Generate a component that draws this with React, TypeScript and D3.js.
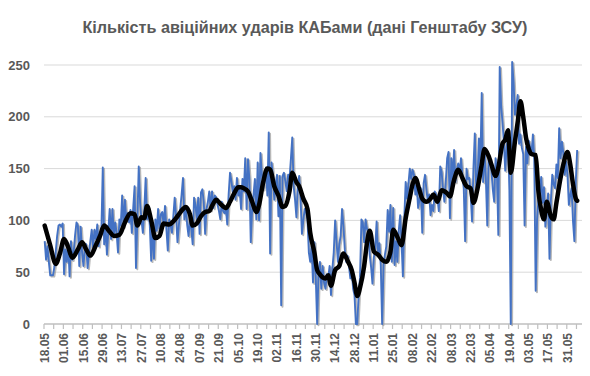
import React from "react";
import * as d3 from "d3";

const TITLE = "Кількість авіційних ударів КАБами (дані Генштабу ЗСУ)";

// category axis: one category per day, labels every 14 days
const TOTAL_DAYS = 389;
const LABEL_STEP = 14;
const TICK_STEP = 7;
const dateLabels = [
  "18.05", "01.06", "15.06", "29.06", "13.07", "27.07", "10.08", "24.08",
  "07.09", "21.09", "05.10", "19.10", "02.11", "16.11", "30.11", "14.12",
  "28.12", "11.01", "25.01", "08.02", "22.02", "08.03", "22.03", "05.04",
  "19.04", "03.05", "17.05", "31.05",
];

const yTicks = [0, 50, 100, 150, 200, 250];

// daily number of KAB strikes
const dailyStrikes = [
  80, 62, 75, 60, 47, 47, 47, 55, 70, 85,
  95, 96, 94, 97, 48, 72, 60, 78, 46, 80,
  62, 70, 86, 98, 95, 56, 94, 70, 56, 72,
  77, 54, 68, 80, 91, 74, 91, 82, 96, 75,
  88, 90, 151, 77, 94, 67, 90, 111, 82, 111,
  85, 98, 88, 69, 101, 95, 124, 94, 120, 100,
  107, 98, 110, 88, 112, 133, 54, 100, 152, 117,
  100, 88, 110, 141, 101, 112, 95, 61, 95, 63,
  101, 90, 111, 92, 106, 108, 96, 114, 92, 71,
  101, 96, 88, 104, 122, 104, 79, 95, 111, 125,
  141, 101, 114, 96, 85, 101, 92, 77, 122, 115,
  101, 122, 87, 127, 130, 118, 87, 111, 118, 128,
  110, 128, 112, 124, 122, 115, 109, 101, 118, 109,
  107, 112, 96, 125, 146, 138, 127, 133, 120, 141,
  124, 130, 111, 140, 128, 160, 111, 159, 140, 79,
  111, 125, 140, 101, 156, 100, 165, 145, 130, 138,
  151, 124, 185, 68, 156, 143, 120, 135, 144, 104,
  143, 18, 143, 146, 138, 128, 144, 140, 159, 180,
  133, 120, 103, 133, 143, 121, 87, 100, 111, 108,
  101, 69, 60, 75, 40, 79, 45, 0, 50, 60,
  34, 56, 40, 34, 48, 44, 56, 28, 53, 69,
  100, 80, 60, 77, 85, 111, 95, 72, 60, 66,
  56, 44, 52, 34, 28, 0, 0, 28, 45, 101,
  98, 79, 101, 92, 89, 67, 55, 39, 64, 73,
  99, 67, 78, 57, 0, 57, 67, 75, 110, 89,
  115, 60, 112, 57, 80, 60, 90, 105, 80, 46,
  102, 137, 121, 135, 150, 140, 149, 144, 125, 134,
  112, 120, 131, 88, 136, 144, 130, 118, 125, 105,
  115, 109, 128, 125, 121, 109, 152, 147, 130, 118,
  137, 160, 166, 102, 160, 140, 168, 137, 149, 155,
  145, 160, 144, 131, 80, 150, 140, 141, 125, 99,
  150, 184, 131, 140, 179, 154, 223, 137, 168, 140,
  95, 161, 160, 148, 130, 118, 160, 147, 86, 248,
  211, 195, 176, 148, 171, 180, 129, 0, 253, 234,
  202, 210, 221, 174, 183, 170, 164, 95, 171, 155,
  177, 170, 164, 183, 158, 32, 101, 120, 126, 142,
  117, 132, 94, 110, 126, 63, 119, 144, 135, 131,
  154, 141, 189, 160, 176, 165, 144, 157, 144, 115,
  125, 131, 99, 80, 137, 168,
];

// smoothed (moving average) line, read at day positions
const trendDays = [
  0, 4, 8, 11, 14, 17, 20, 24, 27, 30, 33, 37, 40, 43, 47, 50, 54, 58, 62, 65,
  67, 70, 72, 74, 77, 80, 83, 86, 90, 93, 96, 100, 102, 105, 107, 110, 113, 116, 119, 121,
  124, 127, 131, 134, 137, 140, 142, 144, 147, 150, 153, 155, 158, 161, 163, 166, 169, 172, 174, 177,
  179, 182, 184, 187, 190, 192, 195, 197, 199, 201, 203, 205, 207, 210, 213, 216, 219, 222, 224, 226,
  228, 231, 233, 235, 238, 241, 244, 247, 250, 252, 255, 258, 261, 264, 266, 268, 271, 273, 276, 279,
  281, 284, 287, 291, 293, 296, 299, 302, 305, 308, 310, 313, 316, 318, 321, 323, 326, 328, 331, 333,
  335, 337, 340, 342, 344, 346, 348, 350, 352, 355, 357, 359, 361, 363, 366, 368, 370, 373, 375, 378,
  380, 382, 384, 385,
];
const trendValues = [
  95, 76, 58, 68, 82, 74, 64, 72, 79, 72, 66, 76, 85, 95, 89, 85, 86, 98, 107, 106,
  95, 103, 102, 114, 100, 83, 85, 97, 96, 99, 104, 111, 113, 106, 95, 97, 104, 108, 109, 114,
  120, 116, 112, 118, 126, 132, 132, 131, 128, 118, 108, 115, 137, 150, 149, 133, 124, 113, 114, 128,
  146, 137, 133, 121, 111, 88, 69, 52, 48, 45, 44, 47, 37, 52, 56, 68, 61, 52, 40, 27,
  35, 56, 78, 90, 70, 67, 62, 60, 70, 91, 84, 76, 102, 122, 135, 141, 129, 121, 118, 121,
  125, 118, 129, 126, 123, 139, 149, 141, 133, 131, 117, 131, 154, 169, 162, 154, 143, 151, 174, 178,
  187, 146, 176, 195, 215, 200, 180, 169, 164, 163, 128, 110, 101, 118, 104, 101, 117, 141, 154, 166,
  154, 135, 121, 119,
];

const W = 590;
const H = 376;
const LEFT = 44;
const RIGHT = 582;
const TOP = 65;
const BOTTOM = 324;
const GREY = "#595959";
const FONT = "'Liberation Sans', Arial, sans-serif";

export default function App() {
  const x = d3.scaleLinear().domain([-0.5, TOTAL_DAYS - 0.5]).range([LEFT, RIGHT]);
  const y = d3.scaleLinear().domain([0, 250]).range([BOTTOM, TOP]);

  const blueLine = d3
    .line<number>()
    .x((_, i) => x(i))
    .y((v) => y(v));

  const trendPts = trendDays.map((d, i) => [d, trendValues[i]] as [number, number]);
  const trendLine = d3
    .line<[number, number]>()
    .x((p) => x(p[0]))
    .y((p) => y(p[1]))
    .curve(d3.curveMonotoneX);

  const tickIdx = d3.range(0, TOTAL_DAYS + 1, TICK_STEP);

  return (
    <svg
      width={W}
      height={H}
      style={{ position: "absolute", left: 0, top: 0, background: "#fff" }}
      fontFamily={FONT}
    >
      <rect width={W} height={H} fill="#fff" />
      <text
        x={305}
        y={33}
        textAnchor="middle"
        fontSize={16}
        fontWeight="bold"
        fill={GREY}
        textLength={445}
        lengthAdjust="spacingAndGlyphs"
      >
        {TITLE}
      </text>

      {yTicks.map((t) => (
        <g key={t}>
          {t > 0 && (
            <line x1={LEFT} x2={RIGHT} y1={y(t)} y2={y(t)} stroke="#d9d9d9" strokeWidth={1} />
          )}
          <text
            x={30}
            y={y(t)}
            dy="0.35em"
            textAnchor="end"
            fontSize={13}
            fontWeight="bold"
            fill={GREY}
          >
            {t}
          </text>
        </g>
      ))}

      <line x1={LEFT} x2={RIGHT} y1={BOTTOM} y2={BOTTOM} stroke="#bfbfbf" strokeWidth={1.5} />
      {tickIdx.map((k) => (
        <line
          key={k}
          x1={x(k - 0.5)}
          x2={x(k - 0.5)}
          y1={BOTTOM}
          y2={BOTTOM + 5}
          stroke="#bfbfbf"
          strokeWidth={1.2}
        />
      ))}

      {dateLabels.map((lab, i) => {
        const px = x(i * LABEL_STEP);
        return (
          <text
            key={lab + i}
            transform={`translate(${px},${333}) rotate(-90)`}
            dy="0.35em"
            textAnchor="end"
            fontSize={12}
            fontWeight="bold"
            fill={GREY}
          >
            {lab}
          </text>
        );
      })}

      <path
        d={blueLine(dailyStrikes) || ""}
        fill="none"
        stroke="#9a9a9a"
        strokeOpacity={0.7}
        strokeWidth={2}
        transform="translate(1.3,1.3)"
        strokeLinejoin="round"
      />
      <path
        d={blueLine(dailyStrikes) || ""}
        fill="none"
        stroke="#4472c4"
        strokeWidth={1.9}
        strokeLinejoin="round"
      />
      <path
        d={trendLine(trendPts) || ""}
        fill="none"
        stroke="#000"
        strokeWidth={4.5}
        strokeLinejoin="round"
        strokeLinecap="round"
      />
    </svg>
  );
}
